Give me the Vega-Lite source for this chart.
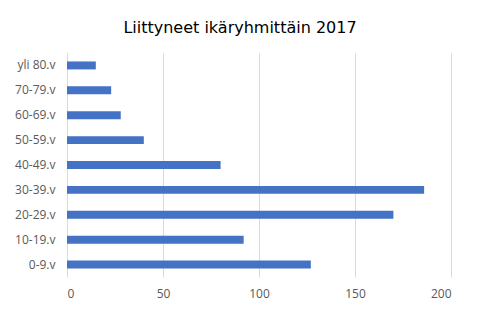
{
  "$schema": "https://vega.github.io/schema/vega-lite/v6.json",
  "width": 384,
  "height": 224,
  "autosize": "none",
  "padding": {"left": 67, "top": 53, "right": 30, "bottom": 39},
  "background": "white",
  "title": {
    "text": "Liittyneet ikäryhmittäin 2017",
    "font": "DejaVu Sans",
    "fontSize": 16,
    "fontWeight": "normal",
    "color": "#000000",
    "anchor": "middle",
    "dx": -19,
    "offset": 17
  },
  "data": {
    "values": [
      {"ikaryhma": "yli 80.v", "maara": 15},
      {"ikaryhma": "70-79.v", "maara": 23},
      {"ikaryhma": "60-69.v", "maara": 28},
      {"ikaryhma": "50-59.v", "maara": 40},
      {"ikaryhma": "40-49.v", "maara": 80},
      {"ikaryhma": "30-39.v", "maara": 186},
      {"ikaryhma": "20-29.v", "maara": 170},
      {"ikaryhma": "10-19.v", "maara": 92},
      {"ikaryhma": "0-9.v", "maara": 127}
    ]
  },
  "mark": {"type": "bar", "color": "#4472C4"},
  "encoding": {
    "y": {
      "field": "ikaryhma",
      "type": "nominal",
      "sort": null,
      "title": null,
      "scale": {"paddingInner": 0.68, "paddingOuter": 0.34},
      "axis": {
        "domain": false,
        "ticks": false,
        "grid": false,
        "labelPadding": 12,
        "labelFont": "Open Sans",
        "labelFontSize": 12,
        "labelColor": "#595959"
      }
    },
    "x": {
      "field": "maara",
      "type": "quantitative",
      "title": null,
      "scale": {"domain": [0, 200], "nice": false},
      "axis": {
        "values": [0, 50, 100, 150, 200],
        "domain": false,
        "ticks": false,
        "grid": true,
        "gridColor": "#d9d9d9",
        "labelPadding": 11,
        "labelFont": "Open Sans",
        "labelFontSize": 12,
        "labelColor": "#595959"
      }
    }
  },
  "config": {"view": {"stroke": null}}
}
